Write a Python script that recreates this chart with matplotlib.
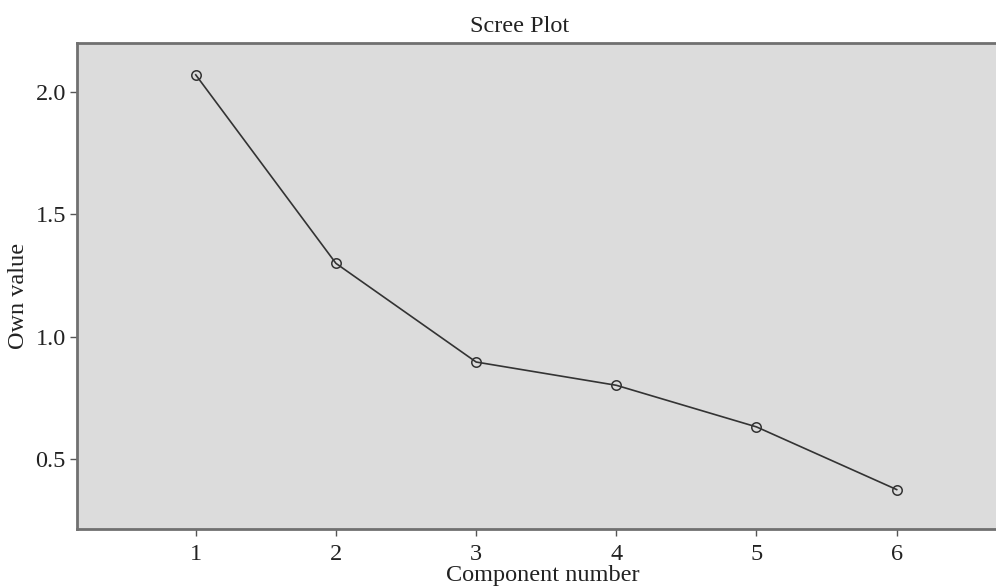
import matplotlib.pyplot as plt

components = [1, 2, 3, 4, 5, 6]
eigenvalues = [2.07, 1.30, 0.897, 0.802, 0.632, 0.376]
yticks = [0.5, 1.0, 1.5, 2.0]
ytick_labels = ["0.5", "1.0", "1.5", "2.0"]

plt.rcParams['font.family'] = ['Liberation Serif', 'DejaVu Serif']

fig = plt.figure(figsize=(9.96, 5.87), dpi=100)
# axes runs slightly past the right edge, like the cropped original
ax = fig.add_axes([77 / 996, 58 / 587, (1008 - 77) / 996, 486 / 587])
ax.set_facecolor('#dcdcdc')

ax.plot(components, eigenvalues, color='#333333', linewidth=1.2,
        marker='o', markersize=6.8, markerfacecolor='none',
        markeredgecolor='#333333', markeredgewidth=1.1)

ax.set_xlim(0.153, 6.794)
ax.set_ylim(0.215, 2.2)
ax.set_xticks(components)
ax.set_yticks(yticks)
ax.set_yticklabels(ytick_labels)

for side in ['left', 'bottom', 'top']:
    ax.spines[side].set_color('#707070')
    ax.spines[side].set_linewidth(2.0)
ax.spines['right'].set_visible(False)

ax.tick_params(axis='both', direction='out', length=5, width=1,
               color='#555555', labelsize=17.5, labelcolor='#222222')
ax.tick_params(axis='y', pad=3)
ax.tick_params(axis='x', pad=6)

ax.set_title("Scree Plot", fontsize=17.5, color='#222222', x=0.475, pad=8)
ax.set_xlabel("Component number", fontsize=17.5, color='#222222', labelpad=0)
ax.set_ylabel("Own value", fontsize=17.5, color='#222222')
ax.yaxis.set_label_coords(-0.0516, 0.48)

fig.savefig("out.png", dpi=100)
